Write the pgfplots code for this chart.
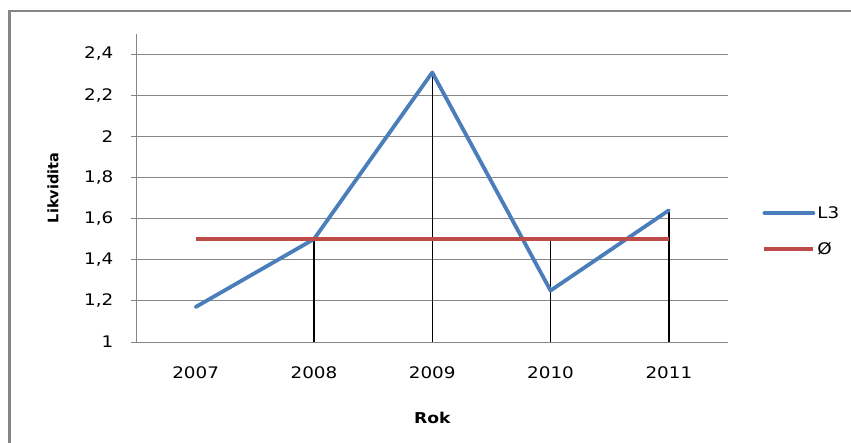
\documentclass[border=0pt]{standalone}
\usepackage{fontspec}
\setmainfont{DejaVu Sans}[FakeStretch=1.15]
\newfontfamily\plainsans{DejaVu Sans}
\usepackage{pgfplots}
\pgfplotsset{compat=1.18}
\definecolor{xlblue}{HTML}{4A7EBB}
\definecolor{xlred}{HTML}{BE4B48}
\definecolor{xlgrid}{HTML}{868686}
\begin{document}
\begin{tikzpicture}[x=1bp,y=1bp]
\useasboundingbox (0,0) rectangle (851,-443);
\draw[xlgrid, line width=3bp] (9,-443) -- (9,-11);
\draw[xlgrid, line width=1.5bp] (7.5,-11) -- (851,-11);
\begin{axis}[
  at={(136.5bp,-342bp)}, anchor=south west,
  scale only axis, width=591.5bp, height=308bp,
  xmin=-0.5, xmax=4.5, ymin=1, ymax=2.497,
  axis lines*=left,
  axis line style={xlgrid, line width=0.8bp},
  xtick={0,1,2,3,4},
  xticklabels={2007,2008,2009,2010,2011},
  ytick={1,1.2,...,2.41},
  tick align=outside,
  major tick length=6bp,
  xtick style={draw=none},
  ytick style={xlgrid, line width=0.8bp},
  ymajorgrids,
  grid style={xlgrid, line width=0.8bp},
  /pgf/number format/use comma,
  /pgf/number format/assume math mode=true,
  ticklabel style={font=\fontsize{16}{18}\selectfont},
  xticklabel style={inner sep=0pt, anchor=north, yshift=-18bp},
  yticklabel style={inner sep=0pt, anchor=east, xshift=-17bp},
  xlabel={Rok},
  ylabel={Likvidita},
  xlabel style={at={(axis description cs:0.5,0)}, anchor=center, yshift=-76bp, font=\bfseries\fontsize{15}{17}\selectfont},
  ylabel style={at={(axis description cs:0,0.5)}, anchor=center, yshift=83.5bp, font=\plainsans\bfseries\fontsize{14.5}{16}\selectfont},
  legend style={draw=none, fill=none, at={(1.058,0.36)}, anchor=west,
    font=\fontsize{16}{18}\selectfont, row sep=18bp, inner sep=0pt},
  legend cell align=left,
  legend image code/.code={\draw[#1] (0bp,0bp) -- (49bp,0bp);},
]
\addplot[black, line width=1.3bp, ycomb, forget plot] coordinates {(1,1.5) (2,2.31) (3,1.5) (4,1.64)};
\addplot[xlblue, line width=3.8bp, line join=round, line cap=round] coordinates {(0,1.17) (1,1.5) (2,2.31) (3,1.25) (4,1.64)};
\addlegendentry{L3}
\addplot[xlred, line width=3.6bp] coordinates {(0,1.5) (1,1.5) (2,1.5) (3,1.5) (4,1.5)};
\addlegendentry{Ø}
\end{axis}
\end{tikzpicture}
\end{document}
